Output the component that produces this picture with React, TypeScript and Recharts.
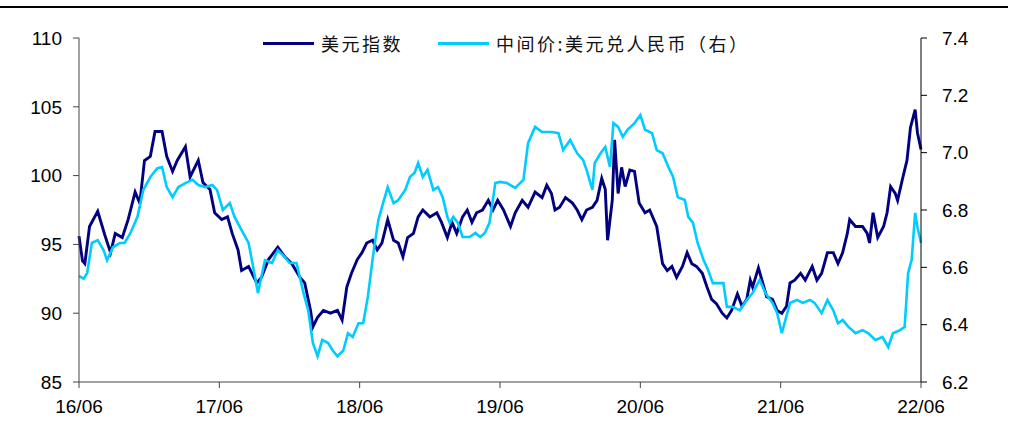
import { LineChart, Line, XAxis, YAxis } from "recharts";

// months since 2016/06
const dxyMonths = [0, 0.3, 0.5, 0.9, 1.6, 2.2, 2.7, 3.1, 3.7, 4.2, 4.8, 5.2, 5.6, 6.1, 6.5, 7.1, 7.5, 8.0, 8.4, 9.1, 9.5, 10.2, 10.6, 11.2, 11.6, 12.2, 12.7, 13.1, 13.6, 13.9, 14.5, 15.2, 15.6, 16.2, 17.0, 17.6, 18.2, 18.9, 19.3, 19.8, 20.0, 20.4, 20.9, 21.5, 22.1, 22.5, 22.9, 23.3, 23.8, 24.2, 24.6, 25.1, 25.5, 25.9, 26.4, 26.9, 27.3, 27.7, 28.1, 28.6, 29.0, 29.4, 30.0, 30.6, 31.0, 31.5, 31.9, 32.3, 32.8, 33.2, 33.6, 34.0, 34.5, 35.0, 35.4, 35.8, 36.3, 36.9, 37.3, 37.9, 38.4, 39.0, 39.6, 40.0, 40.4, 40.7, 41.1, 41.6, 42.2, 42.6, 43.0, 43.4, 43.9, 44.3, 44.7, 45.0, 45.2, 45.6, 45.8, 46.1, 46.4, 46.7, 47.1, 47.5, 47.9, 48.4, 48.8, 49.4, 49.9, 50.3, 50.7, 51.1, 51.6, 52.0, 52.4, 52.8, 53.3, 53.7, 54.1, 54.5, 55.0, 55.4, 55.8, 56.3, 56.7, 57.1, 57.4, 57.6, 58.1, 58.4, 58.8, 59.3, 59.7, 60.1, 60.5, 60.8, 61.2, 61.7, 62.1, 62.7, 63.1, 63.5, 64.0, 64.5, 64.9, 65.3, 65.7, 65.9, 66.4, 67.0, 67.4, 67.6, 67.9, 68.3, 68.8, 69.1, 69.4, 69.8, 70.0, 70.4, 70.8, 71.1, 71.5, 71.7, 72.0];
const dxyValues = [95.6, 93.8, 93.6, 96.3, 97.4, 95.7, 94.4, 95.8, 95.5, 96.8, 98.8, 98.0, 101.1, 101.4, 103.2, 103.2, 101.4, 100.3, 101.1, 102.1, 99.9, 101.1, 99.5, 99.0, 97.3, 96.8, 97.0, 95.8, 94.6, 93.1, 93.4, 92.2, 92.6, 93.9, 94.8, 94.1, 93.6, 92.6, 92.2, 90.2, 89.0, 89.7, 90.2, 90.0, 90.2, 89.5, 91.9, 92.9, 93.9, 94.4, 95.1, 95.3, 94.6, 95.1, 96.8, 95.3, 95.1, 94.1, 95.5, 95.8, 97.0, 97.5, 97.0, 97.3, 96.6, 95.5, 96.6, 95.8, 97.0, 97.5, 96.6, 97.3, 97.5, 98.2, 97.5, 98.2, 97.5, 96.3, 97.3, 98.2, 97.7, 98.8, 98.4, 99.3, 98.7, 97.5, 97.7, 98.4, 98.0, 97.5, 96.8, 97.5, 97.7, 98.2, 99.8, 99.0, 95.3, 98.2, 102.6, 98.7, 100.6, 99.2, 100.4, 100.3, 98.0, 97.3, 97.5, 96.3, 93.6, 93.1, 93.4, 92.6, 93.4, 94.4, 93.6, 93.4, 92.9, 91.9, 91.0, 90.7, 90.0, 89.65, 90.2, 91.4, 90.5, 91.0, 92.4, 91.9, 93.3, 92.4, 91.2, 91.0, 90.2, 90.0, 90.5, 92.2, 92.4, 92.9, 92.4, 93.4, 92.4, 92.9, 94.4, 94.4, 93.6, 94.4, 95.8, 96.8, 96.3, 96.3, 95.8, 95.1, 97.3, 95.5, 96.3, 97.3, 99.2, 98.7, 98.2, 99.7, 101.1, 103.5, 104.8, 103.1, 101.9];

const cnyMonths = [0, 0.4, 0.7, 1.1, 1.6, 2.1, 2.4, 2.9, 3.5, 3.9, 4.4, 5.0, 5.5, 6.1, 6.7, 7.1, 7.5, 8.0, 8.5, 9.1, 9.7, 10.2, 10.8, 11.4, 11.8, 12.3, 12.9, 13.3, 13.9, 14.5, 14.9, 15.3, 15.9, 16.5, 17.0, 17.6, 18.0, 18.6, 19.2, 19.6, 20.0, 20.4, 20.8, 21.3, 21.7, 22.1, 22.6, 23.0, 23.4, 23.9, 24.3, 24.7, 25.1, 25.3, 25.6, 26.0, 26.4, 26.9, 27.3, 27.9, 28.3, 28.7, 29.0, 29.4, 29.8, 30.3, 30.7, 31.1, 31.5, 31.7, 32.0, 32.4, 32.8, 33.4, 33.9, 34.3, 34.7, 35.1, 35.6, 36.0, 36.6, 37.3, 38.0, 38.4, 39.0, 39.6, 40.4, 41.0, 41.4, 42.0, 42.6, 43.1, 43.4, 43.9, 44.1, 44.6, 45.0, 45.4, 45.7, 46.1, 46.5, 46.9, 47.5, 48.0, 48.4, 49.0, 49.4, 49.9, 50.4, 50.8, 51.2, 51.8, 52.1, 52.5, 52.9, 53.4, 53.8, 54.2, 54.8, 55.1, 55.4, 55.9, 56.5, 57.1, 57.6, 58.2, 58.7, 59.3, 59.7, 60.1, 60.4, 60.8, 61.4, 61.9, 62.5, 62.9, 63.5, 64.0, 64.5, 64.9, 65.3, 65.8, 66.4, 67.0, 67.5, 68.1, 68.7, 69.2, 69.6, 70.2, 70.6, 70.9, 71.2, 71.5, 71.7, 72.0];
const cnyValues = [6.57, 6.56, 6.58, 6.685, 6.695, 6.66, 6.625, 6.67, 6.685, 6.685, 6.72, 6.776, 6.87, 6.915, 6.946, 6.95, 6.88, 6.845, 6.88, 6.894, 6.905, 6.887, 6.88, 6.887, 6.87, 6.8, 6.824, 6.776, 6.73, 6.685, 6.6, 6.51, 6.625, 6.615, 6.66, 6.636, 6.615, 6.615, 6.51, 6.45, 6.336, 6.29, 6.347, 6.336, 6.31, 6.29, 6.31, 6.37, 6.357, 6.405, 6.405, 6.497, 6.626, 6.685, 6.765, 6.824, 6.88, 6.824, 6.835, 6.87, 6.915, 6.93, 6.964, 6.915, 6.94, 6.87, 6.88, 6.845, 6.776, 6.755, 6.776, 6.755, 6.706, 6.706, 6.72, 6.706, 6.72, 6.755, 6.894, 6.898, 6.894, 6.877, 6.905, 7.033, 7.09, 7.072, 7.072, 7.068, 7.009, 7.044, 6.998, 6.975, 6.94, 6.87, 6.964, 6.998, 7.02, 6.95, 7.103, 7.09, 7.055, 7.08, 7.103, 7.131, 7.08, 7.068, 7.009, 6.998, 6.95, 6.915, 6.845, 6.835, 6.776, 6.755, 6.685, 6.626, 6.59, 6.545, 6.545, 6.545, 6.462, 6.462, 6.45, 6.486, 6.51, 6.556, 6.51, 6.476, 6.44, 6.37, 6.416, 6.476, 6.486, 6.476, 6.486, 6.476, 6.44, 6.486, 6.45, 6.405, 6.416, 6.392, 6.37, 6.381, 6.37, 6.347, 6.357, 6.322, 6.37, 6.381, 6.392, 6.58, 6.626, 6.79, 6.74, 6.685];

const xTicks = [0, 12, 24, 36, 48, 60, 72];
const xTickLabels = ["16/06", "17/06", "18/06", "19/06", "20/06", "21/06", "22/06"];
const leftTicks = [85, 90, 95, 100, 105, 110];
const rightTicks = [6.2, 6.4, 6.6, 6.8, 7.0, 7.2, 7.4];

const seriesNames = ["美元指数", "中间价:美元兑人民币（右）"];
const colors = ["#000080", "#00CCFF"];

const dxyData = dxyMonths.map((t, i) => ({ t, v: dxyValues[i] }));
const cnyData = cnyMonths.map((t, i) => ({ t, v: cnyValues[i] }));

const tickFont = { fontFamily: "'Liberation Sans', Arial, sans-serif", fontSize: 19, fill: "#000" };

export default function App() {
  return (
    <div style={{ position: "relative", width: 1013, height: 430, background: "#fff" }}>
      <style>{`body{margin:0}`}</style>
      <div style={{ position: "absolute", left: 0, top: 6, width: 1008, height: 2, background: "#000" }} />

      <LineChart
        width={1013}
        height={430}
        margin={{ top: 38, right: 32, bottom: 18, left: 0 }}
      >
        <XAxis
          type="number"
          dataKey="t"
          domain={[0, 72]}
          ticks={xTicks}
          tickFormatter={(v: number) => xTickLabels[xTicks.indexOf(v)]}
          stroke="#444"
          tickSize={6}
          tickMargin={12}
          height={30}
          tick={tickFont}
          allowDuplicatedCategory={false}
        />
        <YAxis
          yAxisId="left"
          orientation="left"
          domain={[85, 110]}
          ticks={leftTicks}
          stroke="#444"
          width={79}
          tickSize={6}
          tickMargin={11}
          tick={tickFont}
          interval={0}
        />
        <YAxis
          yAxisId="right"
          orientation="right"
          domain={[6.2, 7.4]}
          ticks={rightTicks}
          tickFormatter={(v: number) => v.toFixed(1)}
          stroke="#000"
          width={60}
          tickSize={6}
          tickMargin={15}
          tick={tickFont}
          interval={0}
        />
        <Line
          yAxisId="left"
          data={dxyData}
          dataKey="v"
          name={seriesNames[0]}
          stroke={colors[0]}
          strokeWidth={2.9}
          dot={false}
          isAnimationActive={false}
        />
        <Line
          yAxisId="right"
          data={cnyData}
          dataKey="v"
          name={seriesNames[1]}
          stroke={colors[1]}
          strokeWidth={2.6}
          dot={false}
          isAnimationActive={false}
        />
      </LineChart>

      {/* legend */}
      {[263, 438].map((x, i) => (
        <div key={i} style={{ position: "absolute", left: x, top: 31, display: "flex", alignItems: "center", height: 24 }}>
          <div style={{ width: 51, height: 3, background: colors[i] }} />
          <span
            style={{
              marginLeft: 7,
              fontFamily: "'Noto Sans CJK SC', sans-serif",
              fontSize: 18,
              letterSpacing: 2.5,
              color: "#111",
              whiteSpace: "nowrap",
            }}
          >
            {seriesNames[i]}
          </span>
        </div>
      ))}
    </div>
  );
}
